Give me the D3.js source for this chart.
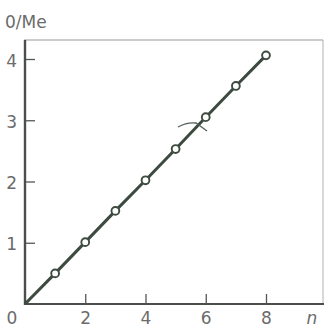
<!DOCTYPE html>
<html>
<head>
<meta charset="utf-8">
<script src="https://cdn.jsdelivr.net/npm/d3@7"></script>
<style>
  html, body { margin: 0; padding: 0; background: #fff; }
  svg { display: block; }
  text { font-family: "DejaVu Sans", sans-serif; }
</style>
</head>
<body>
<script>
const nValues = [1, 2, 3, 4, 5, 6, 7, 8];
const qValues = [0.5, 1.01, 1.52, 2.02, 2.53, 3.05, 3.56, 4.06];
const xTicks = [2, 4, 6, 8];
const yTicks = [1, 2, 3, 4];
const yLabel = "0/Me";
const xLabel = "n";

const W = 325, H = 329;
const svg = d3.select("body").append("svg").attr("width", W).attr("height", H);

const x = d3.scaleLinear().domain([0, 8]).range([25, 266]);
const y = d3.scaleLinear().domain([0, 4]).range([304, 59]);

const ink = "#3c4a40";
const textCol = "#6b6b6b";

// faint frame (top and right)
svg.append("line").attr("x1", 24).attr("x2", 323).attr("y1", 40).attr("y2", 40)
  .attr("stroke", "#9a9a9a").attr("stroke-width", 1.2);
svg.append("line").attr("x1", 323).attr("x2", 323).attr("y1", 40).attr("y2", 304)
  .attr("stroke", "#b0b0b0").attr("stroke-width", 1);

// axes
const xAxis = d3.axisBottom(x).tickValues(xTicks).tickSize(-10).tickSizeOuter(0).tickPadding(8)
  .tickFormat(d3.format("d"));
const gx = svg.append("g").attr("transform", `translate(0,${y(0)})`).call(xAxis);
gx.select(".domain").remove();
gx.selectAll(".tick line").attr("stroke", "#555").attr("stroke-width", 1.3);
gx.selectAll(".tick text").attr("fill", textCol).style("font-size", "17px").style("font-family", "DejaVu Sans");

const yAxis = d3.axisLeft(y).tickValues(yTicks).tickSize(-10).tickSizeOuter(0).tickPadding(8)
  .tickFormat(d3.format("d"));
const gy = svg.append("g").attr("transform", `translate(${x(0)},0)`).call(yAxis);
gy.select(".domain").remove();
gy.selectAll(".tick line").attr("stroke", "#555").attr("stroke-width", 1.3);
gy.selectAll(".tick text").attr("fill", textCol).style("font-size", "17px").style("font-family", "DejaVu Sans")
  .attr("dy", "0.42em");

// axis lines
svg.append("line").attr("x1", x(0)).attr("x2", x(0)).attr("y1", 40).attr("y2", y(0) + 1)
  .attr("stroke", "#4a4f4a").attr("stroke-width", 2.4);
svg.append("line").attr("x1", x(0) - 1).attr("x2", 324).attr("y1", y(0)).attr("y2", y(0))
  .attr("stroke", "#4a4f4a").attr("stroke-width", 2.2);

// labels
svg.append("text").attr("x", 5).attr("y", 28).text(yLabel)
  .attr("fill", textCol).style("font-size", "17px");
svg.append("text").attr("x", 12).attr("y", 324).attr("text-anchor", "middle").text("0")
  .attr("fill", textCol).style("font-size", "17px");
svg.append("text").attr("x", 312).attr("y", 324).attr("text-anchor", "middle").text(xLabel)
  .attr("fill", textCol).style("font-size", "17px").style("font-style", "italic");

// data line from origin
const pts = [[0, 0]].concat(nValues.map((n, i) => [n, qValues[i]]));
const line = d3.line().x(d => x(d[0])).y(d => y(d[1]));
svg.append("path").datum(pts).attr("d", line)
  .attr("fill", "none").attr("stroke", ink).attr("stroke-width", 3);

// pen mark
svg.append("path").attr("d", "M178,127 Q187,122 196,123 L207,131")
  .attr("fill", "none").attr("stroke", "#55605a").attr("stroke-width", 1.3);

// markers
svg.selectAll("circle.pt").data(nValues).enter().append("circle")
  .attr("class", "pt")
  .attr("cx", d => x(d)).attr("cy", (d, i) => y(qValues[i]))
  .attr("r", 3.9).attr("fill", "#fff").attr("stroke", ink).attr("stroke-width", 1.9);
</script>
</body>
</html>
